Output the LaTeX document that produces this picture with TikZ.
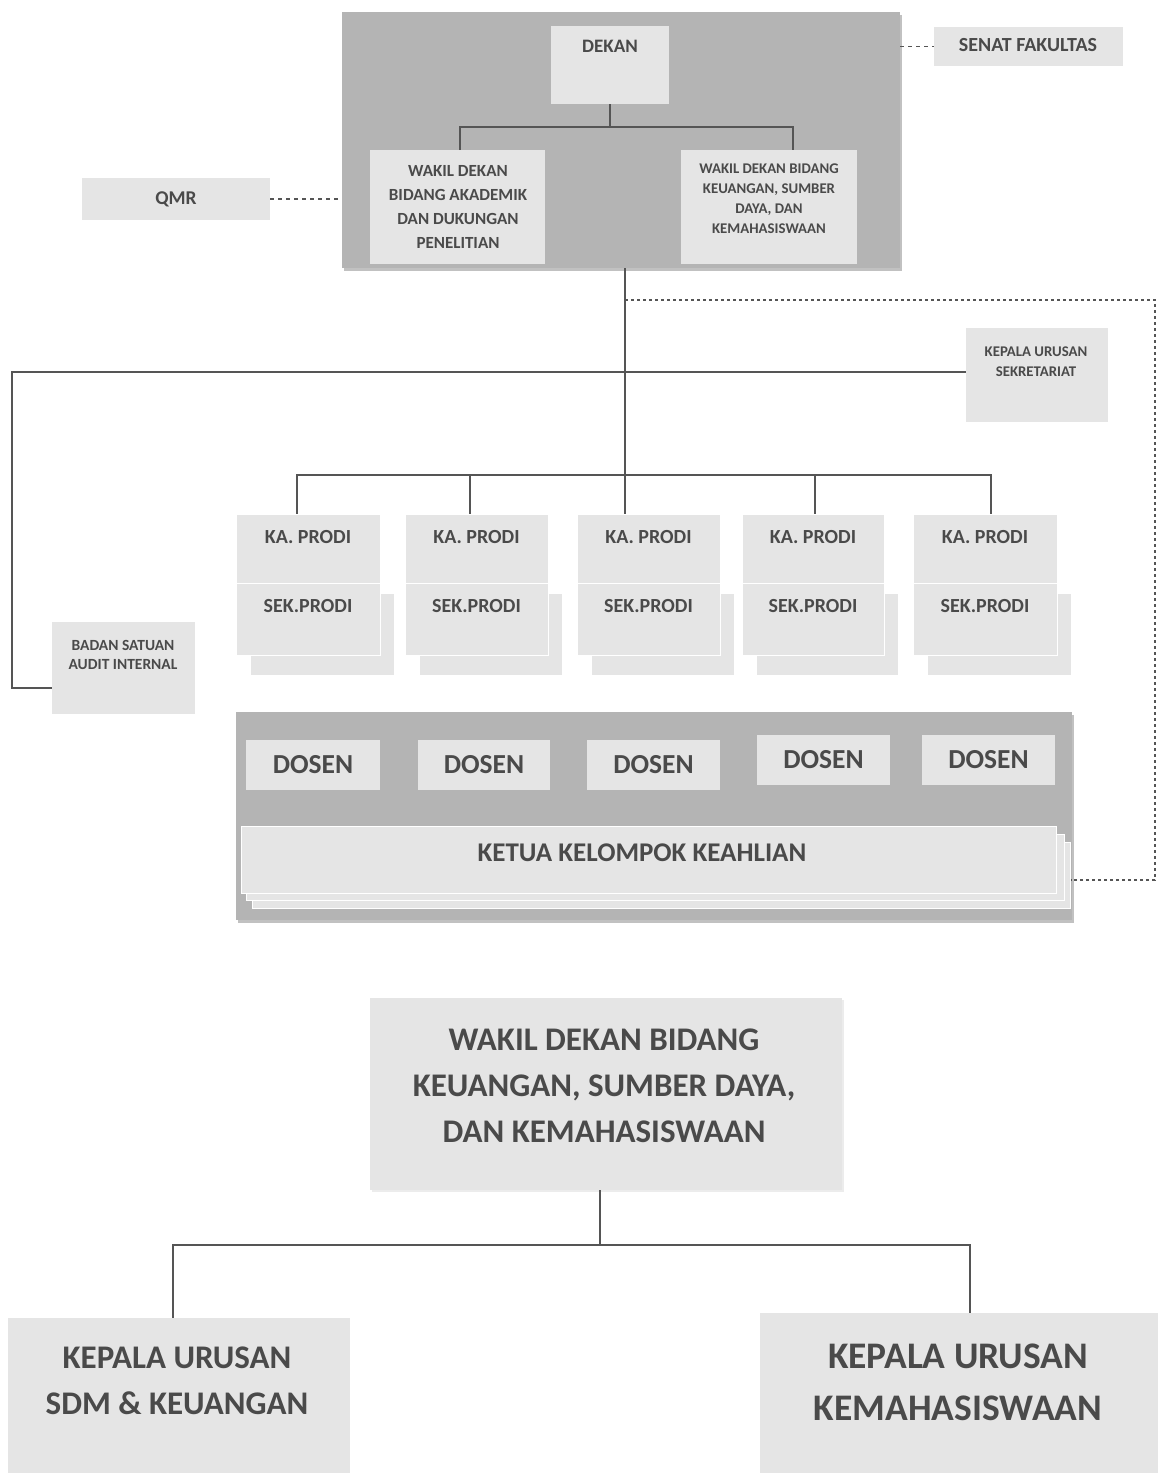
\documentclass[tikz,border=0pt]{standalone}
\usepackage{fontspec}
\setmainfont{Carlito}
\usetikzlibrary{fit,shadows}

\definecolor{ink}{HTML}{4A4A4A}
\definecolor{wirecol}{HTML}{555555}
\definecolor{panel}{HTML}{B4B4B4}
\definecolor{cell}{HTML}{E5E5E5}

\tikzset{
  panelbox/.style={fill=panel, inner sep=0pt,
    drop shadow={shadow xshift=2pt, shadow yshift=-3pt, opacity=.35, fill=black!70}},
  cellbox/.style={fill=cell, inner sep=0pt},
  layer/.style={fill=cell, draw=white, line width=1pt, inner sep=0pt},
  lbl/.style={text=ink, align=center, inner sep=0pt},
  fs/.style 2 args={font=\fontsize{#1}{#2}\selectfont\bfseries},
  wire/.style={draw=wirecol, line width=2.6pt},
  dashwire/.style={draw=wirecol, line width=1.4pt, dash pattern=on 4pt off 4pt},
}

\begin{document}
\begin{tikzpicture}[x=1pt, y=-1pt]
\useasboundingbox (0,0) rectangle (1158,1473);

% ---------------- leadership block ----------------
\node[panelbox, fit={(342,12)(900,268)}] (lead) {};
\node[cellbox, fit={(551,26)(669,104)}] (dekan) {};
\node[lbl, fs={19}{21}] (dekant) at (610,46) {DEKAN};

\node[cellbox, fit={(370,150)(545,264)}] (wda) {};
\node[lbl, fs={17}{23.7}] (wdat) at (458,207)
  {WAKIL DEKAN\\BIDANG AKADEMIK\\DAN DUKUNGAN\\PENELITIAN};
\node[cellbox, fit={(681,150)(857,264)}] (wdb) {};
\node[lbl, fs={14.8}{20}] (wdbt) at (769,199)
  {WAKIL DEKAN BIDANG\\KEUANGAN, SUMBER\\DAYA, DAN\\KEMAHASISWAAN};

\coordinate (dk) at (610,127);
\draw[wire] (dekan.south) -- (dk);
\draw[wire] (wda.north -| 460,0) |- (dk) -| (wdb.north -| 793,0);

% side bodies
\node[cellbox, fit={(934,27)(1123,66)}] (senat) {};
\node[lbl, fs={20}{22}] (senatt) at (1028,45) {SENAT FAKULTAS};
\draw[dashwire] (lead.east |- senat.west) -- (senat.west);

\node[cellbox, fit={(82,178)(270,220)}] (qmr) {};
\node[lbl, fs={19.5}{22}] (qmrt) at (176,199) {QMR};
\draw[dashwire] (qmr.east) -- (qmr.east -| lead.west);

% ---------------- staff units ----------------
\node[cellbox, fit={(966,328)(1108,422)}] (sekr) {};
\node[lbl, fs={14.8}{20}] (sekrt) at (1036,362) {KEPALA URUSAN\\SEKRETARIAT};

\node[cellbox, fit={(52,622)(195,714)}] (bsai) {};
\node[lbl, fs={15.5}{19}] (bsait) at (123,655) {BADAN SATUAN\\AUDIT INTERNAL};

\coordinate (trunk) at (625,475);
\draw[wire] (lead.south -| trunk) -- (trunk);
\draw[wire] (sekr.west |- 0,372) -| (12,688) -- (bsai.west |- 0,688);

% ---------------- study programmes ----------------
\foreach \i/\xa/\xb in {1/236/380, 2/405/548, 3/577/720, 4/742/884, 5/913/1057}{
  \node[layer, fit={(\xa+14,593)(\xb+14,675)}] (back\i) {};
  \node[layer, fit={(\xa,583)(\xb,655)}] (sek\i) {};
  \node[layer, fit={(\xa,514)(\xb,583)}] (ka\i) {};
  \node[lbl, fs={20}{22}] (kat\i) at ({(\xa+\xb)/2},537) {KA. PRODI};
  \node[lbl, fs={20}{22}] (sekt\i) at ({(\xa+\xb)/2},606) {SEK.PRODI};
}
\draw[wire] (ka1.north -| 297,0) |- (trunk) -| (ka5.north -| 991,0);
\draw[wire] (ka2.north -| 470,0) -- (470,475);
\draw[wire] (ka3.north -| trunk) -- (trunk);
\draw[wire] (ka4.north -| 815,0) -- (815,475);

% ---------------- lecturers ----------------
\node[panelbox, fit={(236,712)(1072,920)}] (dospanel) {};
\foreach \i/\xa/\xb/\ya in {1/246/380/740, 2/418/550/740, 3/587/720/740, 4/757/890/735, 5/922/1055/735}{
  \node[cellbox, fit={(\xa,\ya)(\xb,\ya+50)}] (dos\i) {};
  \node[lbl, fs={27.5}{30}] (dost\i) at ({(\xa+\xb)/2},\ya+25) {DOSEN};
}
\node[layer, fit={(252,842)(1070,908)}] (kkback) {};
\node[layer, fit={(246,834)(1064,900)}] (kkmid) {};
\node[layer, fit={(241,826)(1056,893)}] (kk) {};
\node[lbl, fs={27}{30}] (kkt) at (642,853) {KETUA KELOMPOK KEAHLIAN};

\draw[dashwire, dash pattern=on 3pt off 3pt] (trunk |- 0,300) -| (1155,880) -- (kkback.east |- 0,880);

% ---------------- vice dean, finance & students ----------------
\node[cellbox, fit={(370,998)(842,1190)},
  drop shadow={shadow xshift=2pt, shadow yshift=-2pt, opacity=.15}] (wdk) {};
\node[lbl, fs={33}{46}] (wdkt) at (604,1086)
  {WAKIL DEKAN BIDANG\\KEUANGAN, SUMBER DAYA,\\DAN KEMAHASISWAAN};

\node[cellbox, fit={(8,1318)(350,1473)}] (sdm) {};
\node[lbl, fs={33}{46}] (sdmt) at (177,1381) {KEPALA URUSAN\\SDM \& KEUANGAN};

\node[cellbox, fit={(760,1313)(1158,1473)}] (kem) {};
\node[lbl, fs={37.5}{52}] (kemt) at (958,1382) {KEPALA URUSAN\\KEMAHASISWAAN};

\coordinate (wk) at (600,1245);
\draw[wire] (wdk.south -| wk) -- (wk);
\draw[wire] (sdm.north -| 173,0) |- (wk) -| (kem.north -| 970,0);
\end{tikzpicture}
\end{document}
